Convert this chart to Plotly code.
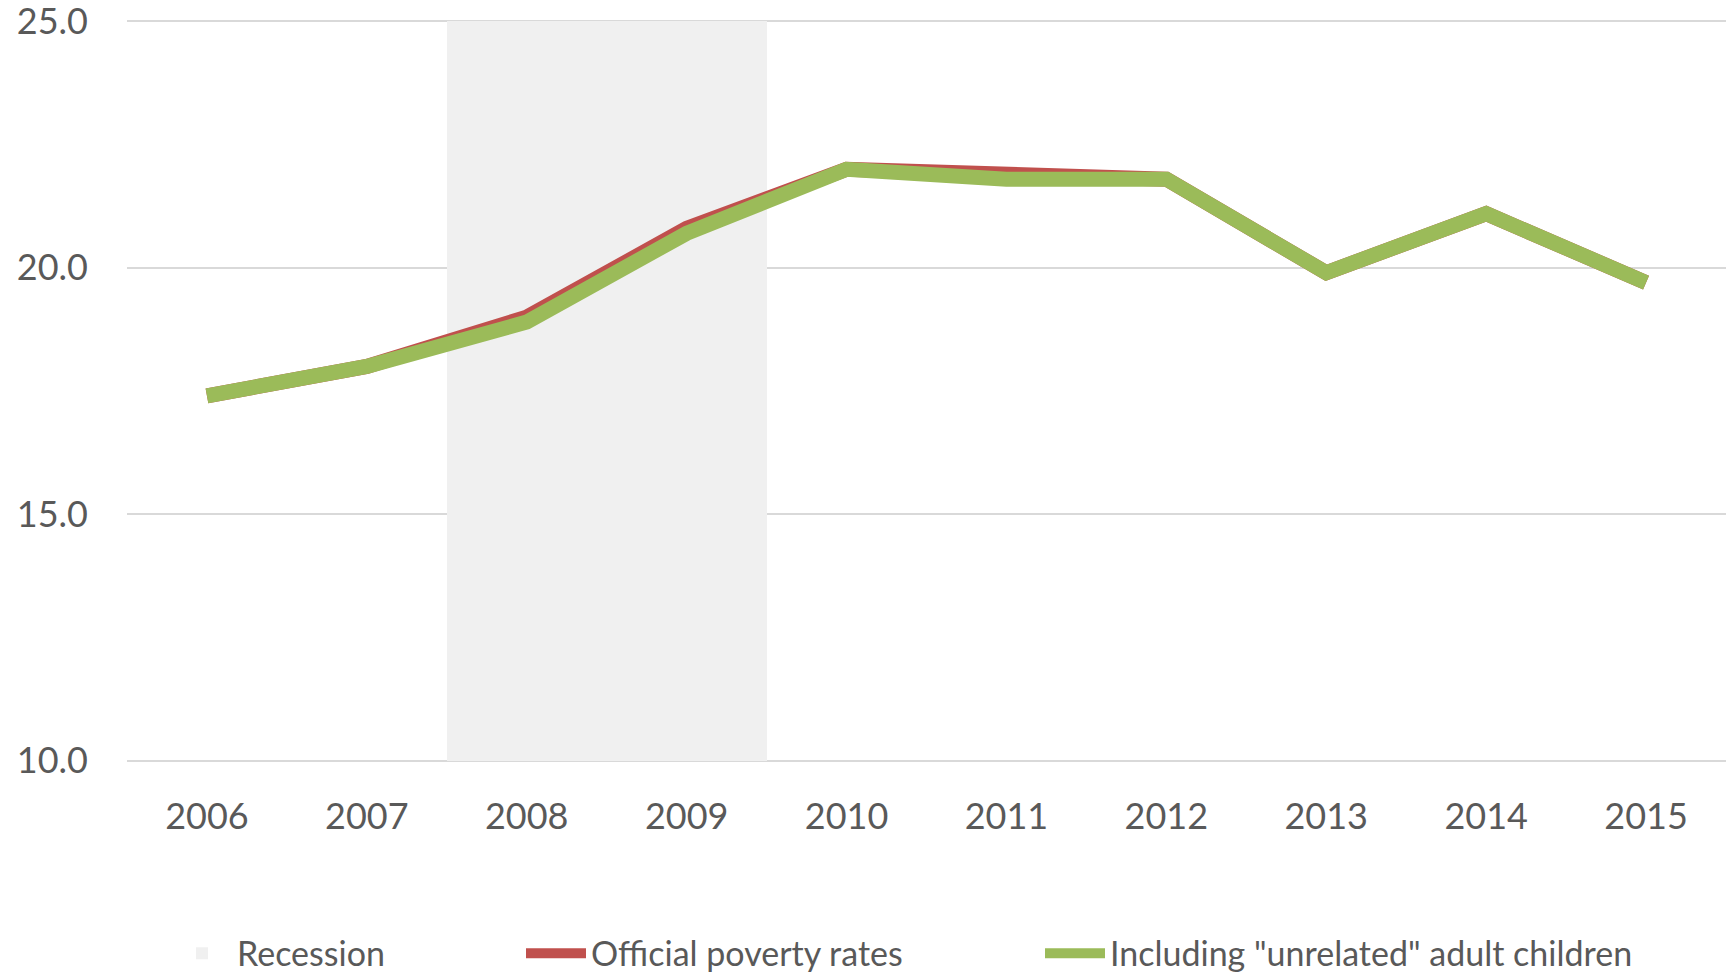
import plotly.graph_objects as go

years = ["2006", "2007", "2008", "2009", "2010", "2011", "2012", "2013", "2014", "2015"]
official = [17.4, 18.0, 19.0, 20.8, 22.0, 21.9, 21.8, 19.9, 21.1, 19.7]
including = [17.4, 18.0, 18.9, 20.7, 22.0, 21.8, 21.8, 19.9, 21.1, 19.7]
# recession band: spans 2008-2009, drawn from the axis floor up to the top
recession_years = ["2008", "2009"]
recession_floor = 10
recession_top = 25

TEXT = "#595959"
FONT = "Lato, 'Noto Sans', sans-serif"

fig = go.Figure()

fig.add_trace(go.Bar(
    name="Recession",
    x=recession_years,
    y=[recession_top - recession_floor] * len(recession_years),
    base=recession_floor,
    marker=dict(color="#F0F0F0", line=dict(width=0)),
    hoverinfo="skip",
    legend="legend",
))
fig.add_trace(go.Scatter(
    name="Official poverty rates",
    x=years, y=official, mode="lines",
    line=dict(color="#C0504D", width=15),
    legend="legend2",
))
fig.add_trace(go.Scatter(
    name='Including "unrelated" adult children',
    x=years, y=including, mode="lines",
    line=dict(color="#9BBB59", width=15),
    legend="legend3",
))

leg = dict(orientation="h", xref="container", yref="container",
           yanchor="middle", xanchor="left", y=0.021,
           font=dict(size=34, color=TEXT, family=FONT),
           bgcolor="rgba(0,0,0,0)", itemwidth=60)

fig.update_layout(
    width=1735, height=974,
    paper_bgcolor="white", plot_bgcolor="white",
    font=dict(family=FONT, color=TEXT, size=36),
    margin=dict(l=127, r=9, t=20, b=212),
    bargap=0,
    showlegend=True,
    legend=dict(leg, x=167 / 1735),
    legend2=dict(leg, x=521 / 1735),
    legend3=dict(leg, x=1040 / 1735),
    xaxis=dict(
        type="category", categoryorder="array", categoryarray=years,
        range=[-0.5, 9.5], showgrid=False, showline=False, zeroline=False,
        ticks="", ticklabelstandoff=30, automargin=False,
        tickfont=dict(size=36, color=TEXT, family=FONT),
    ),
    yaxis=dict(
        range=[9.97, 25.03], tickvals=[10, 15, 20, 25], tickformat=".1f",
        showgrid=True, gridcolor="#D9D9D9", gridwidth=2, zeroline=False,
        showline=False, ticks="", ticklabelstandoff=38,
        ticklabeloverflow="allow", automargin=False,
        tickfont=dict(size=36, color=TEXT, family=FONT),
    ),
)

# the default page body has an 8px margin; drop it so the figure sits at 0,0
fig.write_html("out.html", config={"displayModeBar": False},
               post_script="document.body.style.margin='0';")
